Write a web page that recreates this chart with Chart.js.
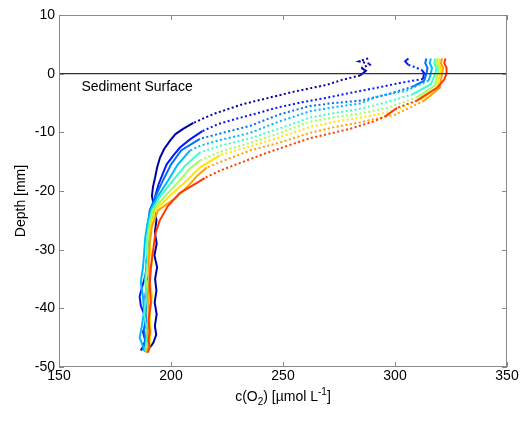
<!DOCTYPE html>
<html>
<head>
<meta charset="utf-8">
<script src="https://cdn.jsdelivr.net/npm/chart.js@4.4.0/dist/chart.umd.min.js"></script>
<style>
  html, body { margin: 0; padding: 0; background: #fff; }
</style>
</head>
<body>
<canvas id="chart" width="528" height="421"></canvas>
<script>
// O2 profiles (x: c(O2) in umol/L, y: depth in mm)
const navyO2 = [288, 284, 289.5, 285, 287, 284.4, 276, 269.6, 262, 254.5, 247, 240.6, 232, 225, 219.5, 215.2, 210, 205.4, 202, 199.6, 197, 195.1, 193.8, 192.9, 192, 191.5, 192.5, 193.5, 192.8, 193.6, 192.6, 193.8, 192.9, 193.5, 192.7, 193.6, 192.8, 193.4, 192.2, 191, 188.5];
const navyDepth = [2.6, 2.1, 1.6, 1.0, 0.5, -0.3, -1.1, -1.9, -2.5, -3.1, -3.8, -4.4, -5.2, -6.1, -6.8, -7.5, -8.4, -9.4, -10.3, -11.4, -12.8, -14.3, -16.0, -17.7, -19.2, -20.8, -23, -25, -27, -29, -31, -33, -35, -37, -39, -41, -43, -44.5, -45.8, -46.5, -46.9];

const blueO2 = [306, 304.5, 306, 309, 312, 313, 312.5, 302, 292, 281, 269.6, 258, 247.3, 238, 230, 221, 214, 208.5, 204, 200.9, 198, 196.4, 194.5, 193, 192, 191, 190, 189.5, 188.5, 187, 186, 186.5, 188, 189, 187.5, 188.5, 187.5, 186.5];
const blueDepth = [2.6, 2.1, 1.5, 1.1, 0.6, 0.1, -0.9, -1.6, -2.4, -3.2, -4.1, -4.9, -5.8, -6.8, -7.6, -8.6, -9.8, -11.2, -12.6, -14.0, -15.5, -17.0, -18.8, -20.8, -23, -26, -29, -32, -34.5, -36.5, -38, -39.5, -41, -42.5, -44, -45.5, -46.5, -47.2];

const midBlueO2 = [314, 313.5, 314.5, 314, 313, 308, 297, 284.4, 273, 262, 248, 235.3, 224, 212.9, 204.5, 200, 196.4, 193, 190.5, 189.5, 190, 189, 189.5, 188.5, 189, 188, 188.5, 187.5];
const midBlueDepth = [2.6, 1.8, 1.0, 0, -1.2, -2.2, -3.5, -4.6, -5.0, -5.5, -7.0, -8.9, -10.0, -11.1, -13.1, -15.5, -18.2, -21, -23.3, -26, -29, -32, -35, -38, -41, -43.5, -45.5, -47.2];

const lightBlueO2 = [316, 315.5, 316.5, 316, 315, 305, 293, 284.4, 273, 262, 248, 235.3, 222, 212.9, 208.5, 203, 198.7, 194, 191, 189.5, 188.5, 188, 187.5, 186.5, 187.5, 188, 187, 186, 187.5, 188.5];
const lightBlueDepth = [2.6, 1.8, 1.0, 0, -1.2, -2.9, -3.8, -5.1, -5.7, -6.4, -8.2, -10.1, -11.3, -12.3, -13.1, -15.5, -18.2, -21, -23.3, -25.5, -28, -30.5, -33, -35.5, -38, -40.5, -43, -45, -46.5, -47.4];

const aquaO2 = [318, 317.5, 318.5, 318, 316, 308, 295, 284.4, 273, 262, 248, 235.3, 222, 213, 206, 200.9, 195, 191.5, 190, 189, 189.5, 188.5, 189, 188, 189.5, 188.5];
const aquaDepth = [2.6, 1.8, 1.0, 0, -1.8, -3.5, -5.0, -6.0, -6.7, -7.5, -9.4, -11.0, -12.3, -13.4, -15.8, -18.2, -21, -23.3, -26, -29, -32, -35, -38, -41, -44, -47.2];

const greenO2 = [319, 318.5, 319.5, 319, 318, 310, 296, 284.4, 273, 262, 248, 235.3, 222, 212.9, 208, 204, 197, 192, 190.5, 189.5, 190, 189, 190, 189.5, 190.5, 189];
const greenDepth = [2.6, 1.8, 1.0, 0, -2, -4, -5.9, -6.8, -7.4, -8.2, -10.2, -11.8, -13.3, -14.8, -16.3, -18.2, -21, -23.3, -26, -29, -32, -35, -38, -41, -44, -47.3];

const yellowO2 = [320, 319.5, 320.5, 320, 319, 312, 298, 284.4, 273, 262, 248, 235.3, 222, 212.9, 207, 199, 193, 191, 190.5, 191.5, 190.5, 191.5, 190.5, 191, 190];
const yellowDepth = [2.6, 1.8, 1.0, 0, -2.2, -4.3, -6.5, -7.5, -8.2, -9.1, -10.9, -12.4, -13.9, -16.0, -18.2, -21, -23.3, -26, -29, -32, -35, -38, -41, -44, -47.4];

const orangeO2 = [321, 320.5, 321.5, 321, 320, 313, 300, 284.4, 273, 262, 248, 235.3, 225, 216, 212, 208, 202, 194.2, 191.5, 190.5, 190, 190.5, 189.5, 190.5, 189.5, 190, 189];
const orangeDepth = [2.6, 1.8, 1.0, 0, -2.4, -4.6, -7.0, -8.3, -9.1, -10.1, -11.8, -13.1, -14.6, -16.0, -17.3, -19.0, -21.2, -23.3, -26, -29, -32, -35, -38, -41, -44, -46.5, -47.6];

const redO2 = [322.5, 322, 323, 323, 322, 318.8, 313, 309.8, 301, 296, 290, 280, 271, 262, 252, 242, 231, 222, 215, 209, 204, 198.5, 195, 193, 192, 191, 190.5, 191, 190, 190.5, 190, 190.5, 189.5];
const redDepth = [2.6, 1.8, 1.0, 0, -1, -2.4, -3.8, -4.6, -5.8, -7.2, -8.2, -9.4, -10.2, -11.0, -12.3, -13.6, -15.2, -16.5, -17.8, -19.2, -20.3, -22.6, -25, -27.3, -30.2, -33, -36, -39, -42, -44, -45.5, -46.7, -47.6];

const xTicks = [150, 200, 250, 300, 350];
const yTicks = [-50, -40, -30, -20, -10, 0, 10];
const surfaceDepth = 0;
const surfaceLabel = 'Sediment Surface';

const profiles = [
  [navyO2, navyDepth], [blueO2, blueDepth], [midBlueO2, midBlueDepth],
  [lightBlueO2, lightBlueDepth], [aquaO2, aquaDepth], [greenO2, greenDepth],
  [yellowO2, yellowDepth], [orangeO2, orangeDepth], [redO2, redDepth]
];
const colors = ['#0000a8', '#0418ff', '#0070ff', '#00b8ff', '#3cffc8', '#a0ff60', '#ffe600', '#ffa000', '#ff3a00'];

const FONT = '"Liberation Sans", Arial, sans-serif';

const datasets = profiles.map(([o2, depth], i) => ({
  label: 'profile ' + (i + 1),
  data: o2.map((v, k) => ({ x: v, y: depth[k] })),
  borderColor: colors[i],
  borderWidth: 2,
  pointRadius: 0,
  tension: 0,
  order: profiles.length - i,
  segment: {
    // sparse dots where the profile runs nearly flat, like the scanned points
    borderDash: c => {
      const dx = Math.abs(c.p1.x - c.p0.x), dy = Math.abs(c.p1.y - c.p0.y);
      return dx > 2 * dy ? [2, 2.5] : undefined;
    }
  }
}));

datasets.push({
  label: 'surface',
  data: [{ x: xTicks[0], y: surfaceDepth }, { x: xTicks[xTicks.length - 1], y: surfaceDepth }],
  borderColor: '#333333',
  borderWidth: 1.3,
  pointRadius: 0,
  order: 0
});

const boxPlugin = {
  id: 'box',
  afterDatasetsDraw(chart) {
    const { ctx, chartArea: a, scales: { x, y } } = chart;
    ctx.save();
    ctx.strokeStyle = '#8a8a8a';
    ctx.lineWidth = 1;
    ctx.strokeRect(a.left + 0.5, a.top + 0.5, a.right - a.left - 1, a.bottom - a.top - 1);
    ctx.beginPath();
    xTicks.forEach(t => {
      const px = Math.round(x.getPixelForValue(t)) + 0.5;
      ctx.moveTo(px, a.bottom); ctx.lineTo(px, a.bottom - 5);
      ctx.moveTo(px, a.top); ctx.lineTo(px, a.top + 5);
    });
    yTicks.forEach(t => {
      const py = Math.round(y.getPixelForValue(t)) + 0.5;
      ctx.moveTo(a.left, py); ctx.lineTo(a.left + 5, py);
      ctx.moveTo(a.right, py); ctx.lineTo(a.right - 5, py);
    });
    ctx.stroke();

    ctx.fillStyle = '#000';
    ctx.font = '14px ' + FONT;
    ctx.textAlign = 'left';
    ctx.textBaseline = 'middle';
    ctx.fillText(surfaceLabel, x.getPixelForValue(160), y.getPixelForValue(-2.3));
    ctx.restore();
  },
  afterDraw(chart) {
    const { ctx, chartArea: a } = chart;
    ctx.save();
    ctx.fillStyle = '#000';
    // y title
    ctx.font = '14px ' + FONT;
    ctx.translate(21, 201);
    ctx.rotate(-Math.PI / 2);
    ctx.textAlign = 'center';
    ctx.textBaseline = 'middle';
    ctx.fillText('Depth [mm]', 0, 0);
    ctx.setTransform(1, 0, 0, 1, 0, 0);
    // x title with sub/superscript
    const parts = [
      { t: 'c(O', size: 14, dy: 0 },
      { t: '2', size: 10, dy: 4 },
      { t: ') [µmol L', size: 14, dy: 0 },
      { t: '-1', size: 10, dy: -6 },
      { t: ']', size: 14, dy: 0 }
    ];
    let w = 0;
    parts.forEach(p => { ctx.font = p.size + 'px ' + FONT; p.w = ctx.measureText(p.t).width; w += p.w; });
    let cx = (a.left + a.right) / 2 - w / 2;
    const base = 401;
    ctx.textAlign = 'left';
    ctx.textBaseline = 'alphabetic';
    parts.forEach(p => {
      ctx.font = p.size + 'px ' + FONT;
      ctx.fillText(p.t, cx, base + p.dy);
      cx += p.w;
    });
    ctx.restore();
  }
};

new Chart(document.getElementById('chart'), {
  type: 'line',
  data: { datasets },
  options: {
    responsive: false,
    animation: false,
    layout: { padding: { top: 15, right: 21, left: 0, bottom: 0 } },
    plugins: { legend: { display: false }, tooltip: { enabled: false } },
    scales: {
      x: {
        type: 'linear',
        min: xTicks[0],
        max: xTicks[xTicks.length - 1],
        afterBuildTicks: s => { s.ticks = xTicks.map(v => ({ value: v })); },
        afterFit: s => { s.height = 54; },
        grid: { display: false, drawTicks: false },
        border: { display: false },
        ticks: { color: '#000', font: { size: 14, family: FONT }, padding: 1, maxRotation: 0 }
      },
      y: {
        type: 'linear',
        min: yTicks[0],
        max: yTicks[yTicks.length - 1],
        afterBuildTicks: s => { s.ticks = yTicks.map(v => ({ value: v })); },
        afterFit: s => { s.width = 59; },
        grid: { display: false, drawTicks: false },
        border: { display: false },
        ticks: { color: '#000', font: { size: 14, family: FONT }, padding: 4 }
      }
    }
  },
  plugins: [boxPlugin]
});
</script>
</body>
</html>
